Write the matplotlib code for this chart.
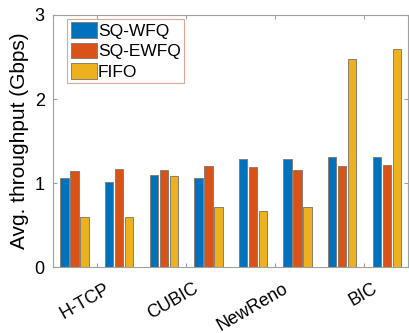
import numpy as np
import matplotlib.pyplot as plt
import matplotlib.transforms as mtransforms

plt.rcParams['font.family'] = ['Liberation Sans', 'DejaVu Sans']

# average throughput per run (Gbps), two runs per congestion control
sq_wfq = [1.06, 1.01, 1.095, 1.06, 1.29, 1.29, 1.31, 1.31]
sq_ewfq = [1.14, 1.17, 1.15, 1.20, 1.19, 1.16, 1.20, 1.21]
fifo = [0.60, 0.59, 1.08, 0.71, 0.67, 0.71, 2.48, 2.59]
series = [("SQ-WFQ", sq_wfq), ("SQ-EWFQ", sq_ewfq), ("FIFO", fifo)]
algos = ["H-TCP", "CUBIC", "NewReno", "BIC"]

colors = ["#0072BD", "#D95319", "#EDB120"]
axcol = "#a0a0a0"

fig = plt.figure(figsize=(4.09, 3.33), dpi=100)
ax = fig.add_axes([0.13, 0.198, 0.868, 0.757])

x = np.arange(1, len(fifo) + 1)
w = 0.19
offs = [-0.225, 0.0, 0.225]
for (name, vals), c, o in zip(series, colors, offs):
    ax.bar(x + o, vals, w, color=c, edgecolor="#8a7f70", linewidth=0.7,
           label=name, zorder=2)

ax.set_xlim(0.52, 8.48)
ax.set_ylim(0, 3)
ax.set_yticks([0, 1, 2, 3])
ax.set_xticks([1.5, 3.5, 5.5, 7.5])
ax.set_xticklabels(algos, rotation=30, ha="right", rotation_mode="anchor")
ax.tick_params(axis="both", direction="in", length=3, width=0.8,
               color=axcol, top=True, right=True)
ax.tick_params(axis="x", pad=9.5, labelsize=13)
ax.tick_params(axis="y", pad=6, labelsize=13)
# nudge rotated labels a little to the right of their ticks
shift = mtransforms.ScaledTranslation(7 / 100, 0, fig.dpi_scale_trans)
for lab in ax.get_xticklabels():
    lab.set_transform(lab.get_transform() + shift)
for s in ax.spines.values():
    s.set_color(axcol)
    s.set_linewidth(0.8)
ax.set_ylabel("Avg. throughput (Gbps)", fontsize=15, labelpad=4)

leg = ax.legend(loc="upper left", bbox_to_anchor=(0.04, 0.985), fontsize=12.5,
                fancybox=False, edgecolor="#d9a898", framealpha=1,
                handlelength=1.5, handleheight=1.0, handletextpad=0.05,
                labelspacing=0.22, borderpad=0.2, borderaxespad=0)
leg.get_frame().set_linewidth(0.8)

fig.savefig("out.png", dpi=100)
